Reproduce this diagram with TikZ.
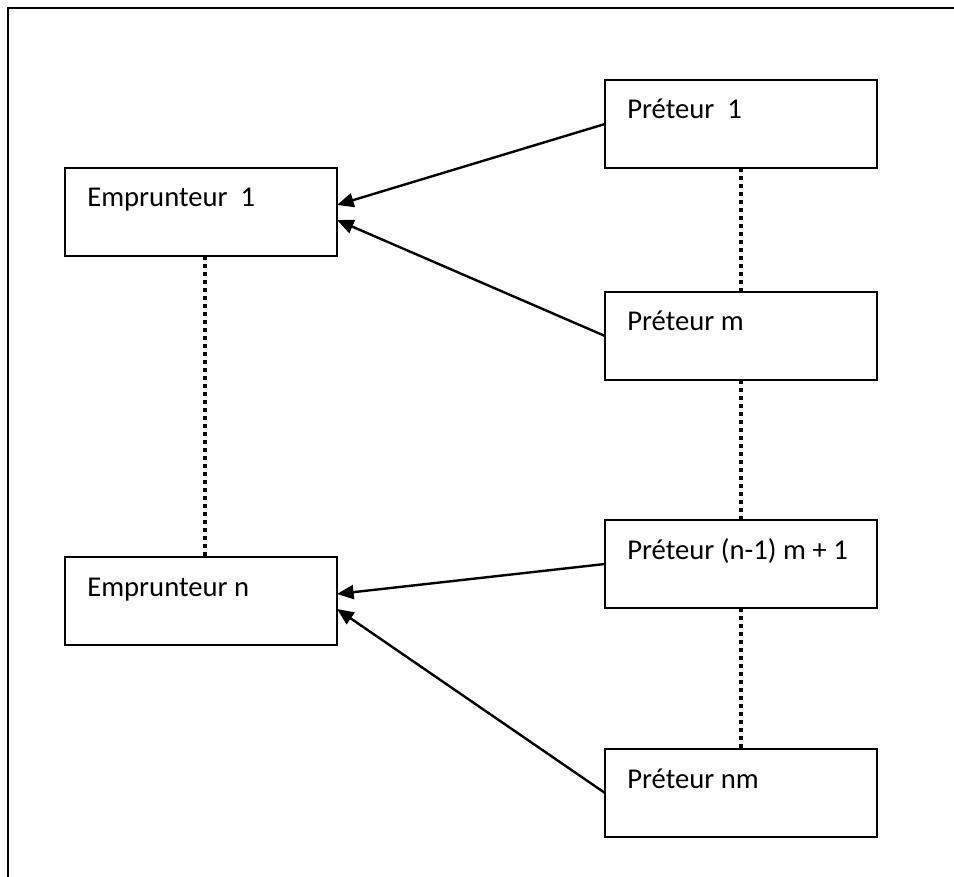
\documentclass[tikz,border=0pt]{standalone}
\usepackage{fontspec}
\setmainfont{Carlito}
\usetikzlibrary{arrows.meta,calc}
\begin{document}
\begin{tikzpicture}[x=0.75pt,y=-0.75pt,
  box/.style={draw,line width=1.7pt,minimum width=204pt,minimum height=66pt,
    anchor=north west,inner sep=0pt,outer sep=0pt},
  lbl/.style={anchor=base west,inner sep=0pt,font=\fontsize{21.5}{25}\selectfont},
  link/.style={line width=1.8pt,-{Triangle[length=12.5pt,width=10.5pt]}},
  dots/.style={line width=2.9pt,dash pattern=on 2.9pt off 3.1pt},
  frame/.style={line width=2.2pt}]
\useasboundingbox (0,0) rectangle (954,877);

% open frame: only the top and left edges fall inside the page
\coordinate (fbl) at (8,880);
\coordinate (ftl) at (8,8);
\coordinate (ftr) at (957,8);
\draw[frame] (fbl) -- (ftl) -- (ftr);

% lenders (right column)
\node[box] (p1) at (605,80) {};
\node[box] (pm) at (605,292) {};
\node[box] (pk) at (605,520) {};
\node[box] (pnm) at (605,749) {};
% borrowers (left column)
\node[box] (e1) at (65,168) {};
\node[box] (en) at (65,557) {};

% labels
\node[lbl] (p1t) at ($(p1.north west)+(22,39)$) {Préteur~~1};
\node[lbl] (pmt) at ($(pm.north west)+(22,39)$) {Préteur m};
\node[lbl] (pkt) at ($(pk.north west)+(22,39)$) {Préteur (n-1) m + 1};
\node[lbl] (pnmt) at ($(pnm.north west)+(22,39)$) {Préteur nm};
\node[lbl] (e1t) at ($(e1.north west)+(22,39)$) {Emprunteur~~1};
\node[lbl] (ent) at ($(en.north west)+(22,39)$) {Emprunteur n};

% arrow entry points on the borrowers
\coordinate (e1a) at ($(e1.north east)+(0,37)$);
\coordinate (e1b) at ($(e1.north east)+(0,52)$);
\coordinate (ena) at ($(en.north east)+(0,37)$);
\coordinate (enb) at ($(en.north east)+(0,52)$);

\draw[link] (p1.west) -- (e1a);
\draw[link] (pm.west) -- (e1b);
\draw[link] (pk.west) -- (ena);
\draw[link] (pnm.west) -- (enb);

% dotted continuations
\draw[dots] (p1.south) -- (pm.north);
\draw[dots] (pm.south) -- (pk.north);
\draw[dots] (pk.south) -- (pnm.north);
\draw[dots] ($(e1.south)+(4,0)$) -- ($(en.north)+(4,0)$);
\end{tikzpicture}
\end{document}
